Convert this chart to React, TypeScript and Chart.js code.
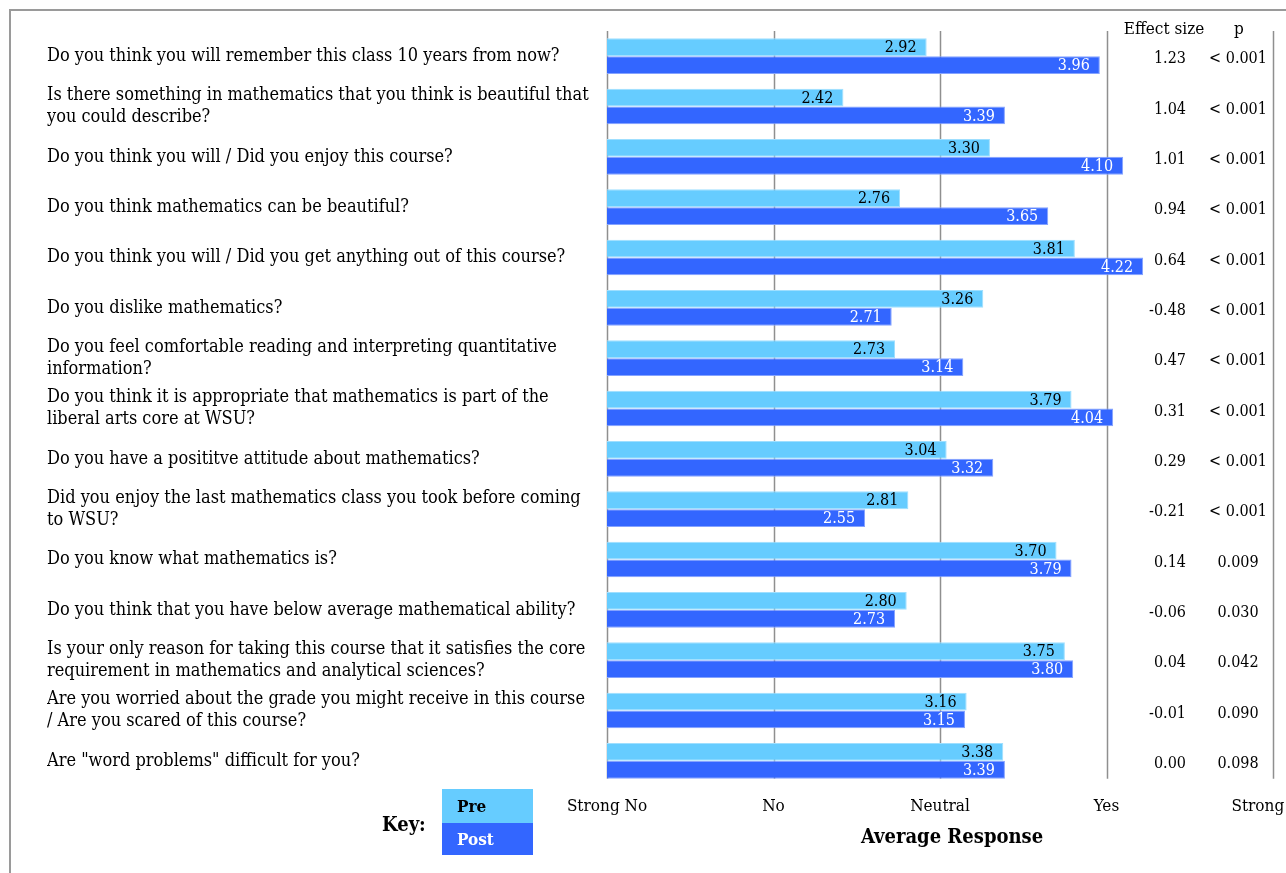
import React, { useEffect, useRef } from "react";
import { Chart, registerables } from "chart.js";

Chart.register(...registerables);

const questions: string[][] = [
  ["Do you think you will remember this class 10 years from now?"],
  ["Is there something in mathematics that you think is beautiful that", "you could describe?"],
  ["Do you think you will / Did you enjoy this course?"],
  ["Do you think mathematics can be beautiful?"],
  ["Do you think you will / Did you get anything out of this course?"],
  ["Do you dislike mathematics?"],
  ["Do you feel comfortable reading and interpreting quantitative", "information?"],
  ["Do you think it is appropriate that mathematics is part of the", "liberal arts core at WSU?"],
  ["Do you have a posititve attitude about mathematics?"],
  ["Did you enjoy the last mathematics class you took before coming", "to WSU?"],
  ["Do you know what mathematics is?"],
  ["Do you think that you have below average mathematical ability?"],
  ["Is your only reason for taking this course that it satisfies the core", "requirement in mathematics and analytical sciences?"],
  ["Are you worried about the grade you might receive in this course", "/ Are you scared of this course?"],
  ['Are "word problems" difficult for you?'],
];

const preValues = [2.92, 2.42, 3.30, 2.76, 3.81, 3.26, 2.73, 3.79, 3.04, 2.81, 3.70, 2.80, 3.75, 3.16, 3.38];
const postValues = [3.96, 3.39, 4.10, 3.65, 4.22, 2.71, 3.14, 4.04, 3.32, 2.55, 3.79, 2.73, 3.80, 3.15, 3.39];
const effectSizes = ["1.23", "1.04", "1.01", "0.94", "0.64", "-0.48", "0.47", "0.31", "0.29", "-0.21", "0.14", "-0.06", "0.04", "-0.01", "0.00"];
const pValues = ["< 0.001", "< 0.001", "< 0.001", "< 0.001", "< 0.001", "< 0.001", "< 0.001", "< 0.001", "< 0.001", "< 0.001", "0.009", "0.030", "0.042", "0.090", "0.098"];
const responseTicks = ["Strong No", "No", "Neutral", "Yes", "Strong Yes"];

const PRE_COLOR = "#66CCFF";
const POST_COLOR = "#3366FF";
const FONT = "'DejaVu Serif Condensed', 'Liberation Serif', serif";

const overlayPlugin = {
  id: "overlay",
  beforeDatasetsDraw(chart: any) {
    const { ctx, chartArea } = chart;
    const xs = chart.scales.x;
    const postMeta = chart.getDatasetMeta(1);
    const last = postMeta.data[postMeta.data.length - 1] as any;
    const bottom = last.y + last.height / 2;
    ctx.save();
    ctx.strokeStyle = "#8f8f8f";
    ctx.lineWidth = 1.5;
    for (let v = 1; v <= 5; v++) {
      const x = Math.round(xs.getPixelForValue(v)) + 0.5;
      ctx.beginPath();
      ctx.moveTo(x, chartArea.top);
      ctx.lineTo(x, bottom);
      ctx.stroke();
    }
    ctx.restore();
  },
  afterDatasetsDraw(chart: any) {
    const { ctx } = chart;
    ctx.save();
    ctx.font = `16px ${FONT}`;
    ctx.textAlign = "right";
    ctx.textBaseline = "middle";
    chart.data.datasets.forEach((ds: any, di: number) => {
      const meta = chart.getDatasetMeta(di);
      meta.data.forEach((el: any, i: number) => {
        ctx.fillStyle = di === 0 ? "#000000" : "#ffffff";
        ctx.fillText((ds.data[i] as number).toFixed(2), el.x - 10, el.y + 1);
      });
    });
    // effect size / p table
    const ys = chart.scales.y;
    ctx.fillStyle = "#000";
    effectSizes.forEach((es, i) => {
      const y = ys.getPixelForValue(i) + 3;
      ctx.textAlign = "right";
      ctx.fillText(es, 1186, y);
      ctx.textAlign = "center";
      ctx.fillText(pValues[i], 1238, y);
    });
    ctx.font = `17px ${FONT}`;
    ctx.textAlign = "center";
    ctx.fillText("Effect size", 1164, 30);
    ctx.fillText("p", 1239, 30);
    ctx.restore();
  },
  afterDraw(chart: any) {
    const { ctx } = chart;
    ctx.save();
    // figure frame
    ctx.strokeStyle = "#9a9a9a";
    ctx.lineWidth = 2;
    ctx.beginPath();
    ctx.moveTo(10, 880);
    ctx.lineTo(10, 10);
    ctx.lineTo(1290, 10);
    ctx.stroke();
    // axis title
    ctx.fillStyle = "#000";
    ctx.textBaseline = "middle";
    ctx.textAlign = "center";
    ctx.font = `bold 20px ${FONT}`;
    ctx.fillText("Average Response", 952, 838);
    // key
    ctx.textAlign = "left";
    ctx.fillText("Key:", 382, 826);
    const ds = chart.data.datasets;
    ctx.fillStyle = ds[0].backgroundColor;
    ctx.fillRect(442, 789, 91, 34);
    ctx.fillStyle = ds[1].backgroundColor;
    ctx.fillRect(442, 823, 91, 32);
    ctx.font = `bold 17px ${FONT}`;
    ctx.fillStyle = "#000";
    ctx.fillText(ds[0].label, 457, 808);
    ctx.fillStyle = "#fff";
    ctx.fillText(ds[1].label, 457, 841);
    ctx.restore();
  },
};

export default function App() {
  const ref = useRef<HTMLCanvasElement | null>(null);
  useEffect(() => {
    if (!ref.current) return;
    const chart = new Chart(ref.current, {
      type: "bar",
      data: {
        labels: questions,
        datasets: [
          { label: "Pre", data: preValues, backgroundColor: PRE_COLOR, borderColor: "#9fdfff", borderWidth: 1, categoryPercentage: 0.71, barPercentage: 1 },
          { label: "Post", data: postValues, backgroundColor: POST_COLOR, borderColor: "#85a3ff", borderWidth: 1, categoryPercentage: 0.71, barPercentage: 1 },
        ],
      },
      options: {
        indexAxis: "y",
        animation: false,
        responsive: false,
        maintainAspectRatio: false,
        layout: { padding: { left: 47, top: 31, right: 13, bottom: 0 } },
        plugins: { legend: { display: false }, tooltip: { enabled: false }, title: { display: false } },
        scales: {
          x: {
            type: "linear",
            min: 1,
            max: 5,
            grid: { display: false },
            border: { display: false },
            ticks: {
              stepSize: 1,
              padding: 2,
              color: "#000",
              font: { family: FONT, size: 17 },
              callback: (v: any) => responseTicks[Number(v) - 1] ?? "",
            },
            afterFit: (s: any) => { s.height = 87; s.paddingLeft = 0; s.paddingRight = 0; },
          },
          y: {
            type: "category",
            grid: { display: false },
            border: { display: false },
            ticks: {
              crossAlign: "far",
              color: "#000",
              font: { family: FONT, size: 18, lineHeight: 1.2 },
              autoSkip: false,
            },
            afterFit: (s: any) => { s.width = 560; s.paddingTop = 0; s.paddingBottom = 0; },
          },
        },
      },
      plugins: [overlayPlugin],
    });
    return () => chart.destroy();
  }, []);
  return (
    <div style={{ position: "fixed", left: 0, top: 0, width: 1286, height: 873, background: "#fff" }}>
      <canvas ref={ref} width={1286} height={873} style={{ display: "block", width: 1286, height: 873 }} />
    </div>
  );
}
